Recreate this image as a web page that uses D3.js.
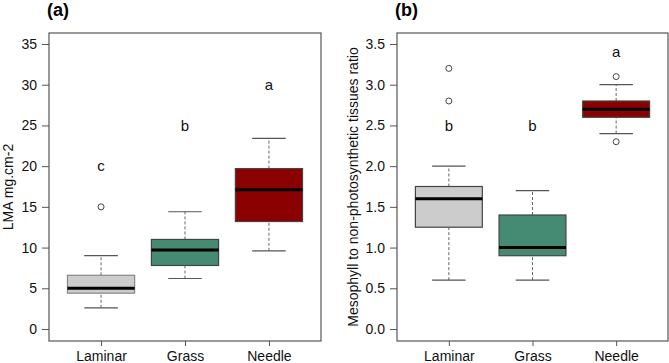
<!DOCTYPE html>
<html>
<head>
<meta charset="utf-8">
<script src="https://cdn.jsdelivr.net/npm/d3@7"></script>
<style>
  body { margin: 0; background: #fff; }
  svg { display: block; font-family: "Liberation Sans", Arial, sans-serif; }
</style>
</head>
<body>
<svg id="chart" width="669" height="363"></svg>
<script>
// Categories and fill colours shared by both panels
var categories = ["Laminar", "Grass", "Needle"];
var fills = ["#cccccc", "#458b74", "#8b0000"];

// Panel (a): LMA
var lmaLow = [2.6, 6.2, 9.6];
var lmaQ1 = [4.4, 7.8, 13.2];
var lmaMedian = [5.0, 9.7, 17.1];
var lmaQ3 = [6.6, 11.0, 19.7];
var lmaHigh = [9.0, 14.4, 23.4];
var lmaOutliers = [[15.0], [], []];
var lmaLetters = ["c", "b", "a"];
var lmaLetterY = [20, 25, 30];
var lmaTicks = [0, 5, 10, 15, 20, 25, 30, 35];

// Panel (b): mesophyll ratio
var mesLow = [0.6, 0.6, 2.4];
var mesQ1 = [1.25, 0.9, 2.6];
var mesMedian = [1.6, 1.0, 2.7];
var mesQ3 = [1.75, 1.4, 2.8];
var mesHigh = [2.0, 1.7, 3.0];
var mesOutliers = [[2.8, 3.2], [], [2.3, 3.1]];
var mesLetters = ["b", "b", "a"];
var mesLetterY = [2.5, 2.5, 3.4];
var mesTicks = [0, 0.5, 1.0, 1.5, 2.0, 2.5, 3.0, 3.5];

var svg = d3.select("#chart");

function drawPanel(opt) {
    var g = svg.append("g");
    var top = 33, bottom = 341;

    var x = d3.scalePoint().domain(categories).range([opt.left, opt.right]).padding(0.62);
    var y = d3.scaleLinear().domain(d3.extent(opt.ticks)).range([329, 44]);
    var boxW = x.step() * 0.8;

    var rows = categories.map(function(c, i) {
        return { cat: c, fill: fills[i], low: opt.low[i], q1: opt.q1[i], med: opt.med[i],
                 q3: opt.q3[i], high: opt.high[i], out: opt.out[i],
                 letter: opt.letters[i], letterY: opt.letterY[i],
                 border: (opt.borders && opt.borders[i]) || "#444" };
    });

    var box = g.selectAll(".box").data(rows).enter().append("g").attr("class", "box");

    // dashed whiskers
    box.append("line")
        .attr("x1", d => x(d.cat)).attr("x2", d => x(d.cat))
        .attr("y1", d => y(d.low)).attr("y2", d => y(d.q1))
        .attr("stroke", "#666").attr("stroke-dasharray", "3,2");
    box.append("line")
        .attr("x1", d => x(d.cat)).attr("x2", d => x(d.cat))
        .attr("y1", d => y(d.q3)).attr("y2", d => y(d.high))
        .attr("stroke", "#666").attr("stroke-dasharray", "3,2");

    // staples
    [ "low", "high" ].forEach(function(k) {
        box.append("line")
            .attr("x1", d => x(d.cat) - boxW / 4).attr("x2", d => x(d.cat) + boxW / 4)
            .attr("y1", d => y(d[k])).attr("y2", d => y(d[k]))
            .attr("stroke", "#555").attr("stroke-width", 1.2);
    });

    // boxes
    box.append("rect")
        .attr("x", d => x(d.cat) - boxW / 2)
        .attr("y", d => y(d.q3))
        .attr("width", boxW)
        .attr("height", d => y(d.q1) - y(d.q3))
        .attr("fill", d => d.fill)
        .attr("stroke", d => d.border).attr("stroke-width", 1.2);

    // medians
    box.append("line")
        .attr("x1", d => x(d.cat) - boxW / 2).attr("x2", d => x(d.cat) + boxW / 2)
        .attr("y1", d => y(d.med)).attr("y2", d => y(d.med))
        .attr("stroke", "#000").attr("stroke-width", 3);

    // outliers
    box.selectAll(".out").data(d => d.out.map(v => ({ cat: d.cat, v: v })))
        .enter().append("circle")
        .attr("cx", d => x(d.cat)).attr("cy", d => y(d.v)).attr("r", 3)
        .attr("fill", "none").attr("stroke", "#444");

    // significance letters
    box.append("text")
        .attr("x", d => x(d.cat)).attr("y", d => y(d.letterY))
        .attr("dy", "0.35em").attr("text-anchor", "middle")
        .style("font-size", "15px").attr("fill", "#111")
        .text(d => d.letter);

    // frame
    g.append("rect")
        .attr("x", opt.left).attr("y", top)
        .attr("width", opt.right - opt.left).attr("height", bottom - top)
        .attr("fill", "none").attr("stroke", "#555").attr("stroke-width", 1.2);

    // y axis
    var yAxis = g.append("g")
        .attr("transform", "translate(" + opt.left + ",0)")
        .call(d3.axisLeft(y).tickValues(opt.ticks).tickFormat(opt.fmt).tickSize(7).tickPadding(5));
    yAxis.select(".domain").remove();
    yAxis.selectAll(".tick line").attr("stroke", "#555");
    yAxis.selectAll("text").style("font-size", "14px").attr("fill", "#111");

    // x axis
    var xAxis = g.append("g")
        .attr("transform", "translate(0," + bottom + ")")
        .call(d3.axisBottom(x).tickSize(5).tickPadding(5));
    xAxis.select(".domain").remove();
    xAxis.selectAll(".tick line").attr("stroke", "#555");
    xAxis.selectAll("text").style("font-size", "14px").attr("fill", "#111");

    // y title
    g.append("text")
        .attr("transform", "translate(" + opt.titleX + "," + ((top + bottom) / 2) + ") rotate(-90)")
        .attr("text-anchor", "middle")
        .style("font-size", "14px").attr("fill", "#111")
        .text(opt.yTitle);

    // panel label
    g.append("text")
        .attr("x", opt.left - 2).attr("y", 16)
        .style("font-size", "18px").style("font-weight", "bold")
        .text(opt.label);
}

drawPanel({ left: 49, right: 321, low: lmaLow, q1: lmaQ1, med: lmaMedian, q3: lmaQ3,
            high: lmaHigh, out: lmaOutliers, letters: lmaLetters, letterY: lmaLetterY,
            borders: ["#888", "#444", "#444"],
            ticks: lmaTicks, fmt: d3.format("d"), yTitle: "LMA mg.cm-2", titleX: 13, label: "(a)" });

drawPanel({ left: 397, right: 668, low: mesLow, q1: mesQ1, med: mesMedian, q3: mesQ3,
            high: mesHigh, out: mesOutliers, letters: mesLetters, letterY: mesLetterY,
            ticks: mesTicks, fmt: d3.format(".1f"), yTitle: "Mesophyll to non-photosynthetic tissues ratio",
            titleX: 358, label: "(b)" });
</script>
</body>
</html>
